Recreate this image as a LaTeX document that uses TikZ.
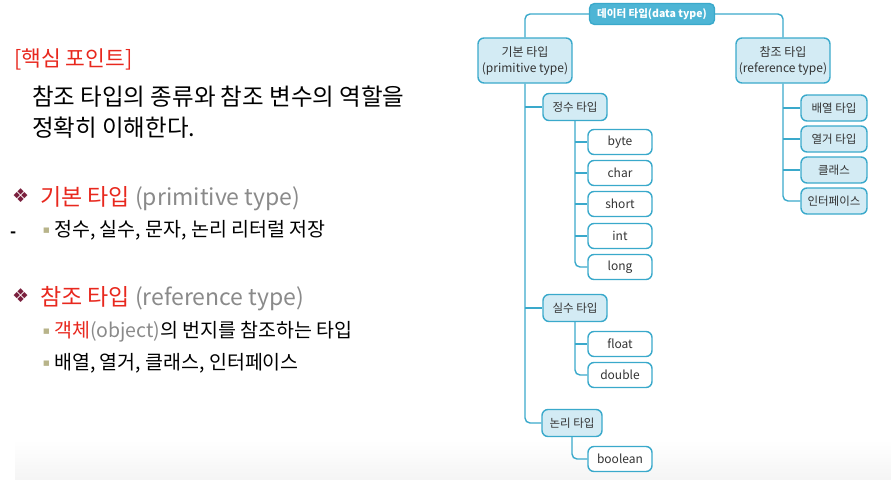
\documentclass[tikz,border=0pt]{standalone}
\usepackage{fontspec}
\setmainfont{Noto Sans CJK KR}
\newfontfamily\symfont{DejaVu Sans}
\newfontfamily\boxfont{Noto Sans CJK KR}
\definecolor{lineblue}{HTML}{3AA9CB}
\definecolor{rootblue}{HTML}{4DB5D5}
\definecolor{paleblue}{HTML}{D3EBF4}
\definecolor{keyred}{HTML}{E8281E}
\definecolor{diamondred}{HTML}{7A1F3D}
\definecolor{bulletolive}{HTML}{B8B48A}
\definecolor{engray}{HTML}{8A8A8A}
\tikzset{
  conn/.style={draw=lineblue, line width=1.4pt, rounded corners=5pt},
  rootbox/.style={draw=lineblue, fill=rootblue, line width=1.4pt, rounded corners=5pt,
    text=white, font=\boxfont\fontsize{10.5}{12}\selectfont\bfseries,
    minimum width=125pt, minimum height=21pt, inner sep=1pt},
  groupbox/.style={draw=lineblue, fill=paleblue, line width=1.4pt, rounded corners=6pt,
    text=black!80, font=\boxfont\fontsize{12}{16}\selectfont, align=center,
    minimum width=94pt, minimum height=45pt, inner sep=1pt},
  kindbox/.style={draw=lineblue, fill=paleblue, line width=1.4pt, rounded corners=6pt,
    text=black!80, font=\boxfont\fontsize{11.5}{12}\selectfont,
    minimum width=64pt, minimum height=27pt, inner sep=1pt},
  leafbox/.style={draw=lineblue, fill=white, line width=1.4pt, rounded corners=6pt,
    text=black!80, font=\boxfont\fontsize{12}{13}\selectfont,
    minimum width=64pt, minimum height=25pt, inner sep=1pt},
  reftbox/.style={kindbox, minimum width=66pt, minimum height=26pt},
  txt/.style={anchor=base west, inner sep=0pt},
  bigtxt/.style={txt, font=\fontsize{23.5}{28}\selectfont},
  subtxt/.style={txt, font=\fontsize{19.5}{22}\selectfont},
  diamond mark/.style={txt, text=diamondred, font=\symfont\fontsize{19}{19}\selectfont},
  square mark/.style={txt, text=bulletolive, font=\symfont\fontsize{7}{8}\selectfont},
}
\begin{document}
\begin{tikzpicture}[x=1pt,y=-1pt]
\useasboundingbox (0,0) rectangle (891,479);
\shade[top color=white, bottom color=black!4] (15,440) rectangle (891,479);

% left text
\node[bigtxt, text=keyred, font=\fontsize{21.5}{26}\selectfont] (point) at (14,66) {[핵심 포인트]};
\node[bigtxt] (goal1) at (32,105) {참조 타입의 종류와 참조 변수의 역할을};
\node[bigtxt] (goal2) at (32,136) {정확히 이해한다.};

\node[diamond mark] (dia1) at (12,202) {❖};
\node[bigtxt, font=\fontsize{23}{28}\selectfont] (prim1) at (40,205)
  {\textcolor{keyred}{기본 타입} \textcolor{engray}{(primitive type)}};
\node[txt, font=\fontsize{16}{16}\selectfont\bfseries] (dash1) at (10,237) {-};
\node[square mark] (sq1) at (43,232) {■};
\node[subtxt] (lit) at (54,236) {정수, 실수, 문자, 논리 리터럴 저장};

\node[diamond mark] (dia2) at (12,302) {❖};
\node[bigtxt, font=\fontsize{23}{28}\selectfont] (ref1) at (40,305)
  {\textcolor{keyred}{참조 타입} \textcolor{engray}{(reference type)}};
\node[square mark] (sq2) at (43,333) {■};
\node[subtxt] (obj) at (54,337)
  {\textcolor{keyred}{객체}\textcolor{engray}{(object)}의 번지를 참조하는 타입};
\node[square mark] (sq3) at (43,365) {■};
\node[subtxt] (kinds) at (54,369) {배열, 열거, 클래스, 인터페이스};

% tree
\node[rootbox] (root) at (652,14) {데이터 타입(data type)};
\node[groupbox] (prim) at (525,60.5) {기본 타입\\(primitive type)};
\node[groupbox] (ref) at (783,60.5) {참조 타입\\(reference type)};

\node[kindbox] (int) at (575,107) {정수 타입};
\node[leafbox] (byte) at (620,142) {byte};
\node[leafbox] (char) at (620,173) {char};
\node[leafbox] (short) at (620,204) {short};
\node[leafbox] (intt) at (620,236) {int};
\node[leafbox] (long) at (620,267) {long};

\node[kindbox] (real) at (575,308) {실수 타입};
\node[leafbox] (float) at (620,344) {float};
\node[leafbox] (double) at (620,375) {double};

\node[kindbox, minimum width=60pt] (logic) at (572,423) {논리 타입};
\node[leafbox] (bool) at (620,459) {boolean};

\node[reftbox] (arr) at (834,108) {배열 타입};
\node[reftbox] (enum) at (834,139) {열거 타입};
\node[reftbox] (class) at (834,170) {클래스};
\node[reftbox] (iface) at (834,201) {인터페이스};

\draw[conn] (root.west) -| (prim.north);
\draw[conn] (root.east) -| (ref.north);

\draw[conn] (prim.south) |- (logic.west);
\foreach \n in {int,real}
  \draw[conn] (prim.south |- \n.west) -- (\n.west);

\draw[conn] (int.south) |- (long.west);
\foreach \n in {byte,char,short,intt}
  \draw[conn] (int.south |- \n.west) -- (\n.west);

\draw[conn] (real.south) |- (double.west);
\draw[conn] (real.south |- float.west) -- (float.west);

\draw[conn] (logic.south) |- (bool.west);

\draw[conn] (ref.south) |- (iface.west);
\foreach \n in {arr,enum,class}
  \draw[conn] (ref.south |- \n.west) -- (\n.west);
\end{tikzpicture}
\end{document}
